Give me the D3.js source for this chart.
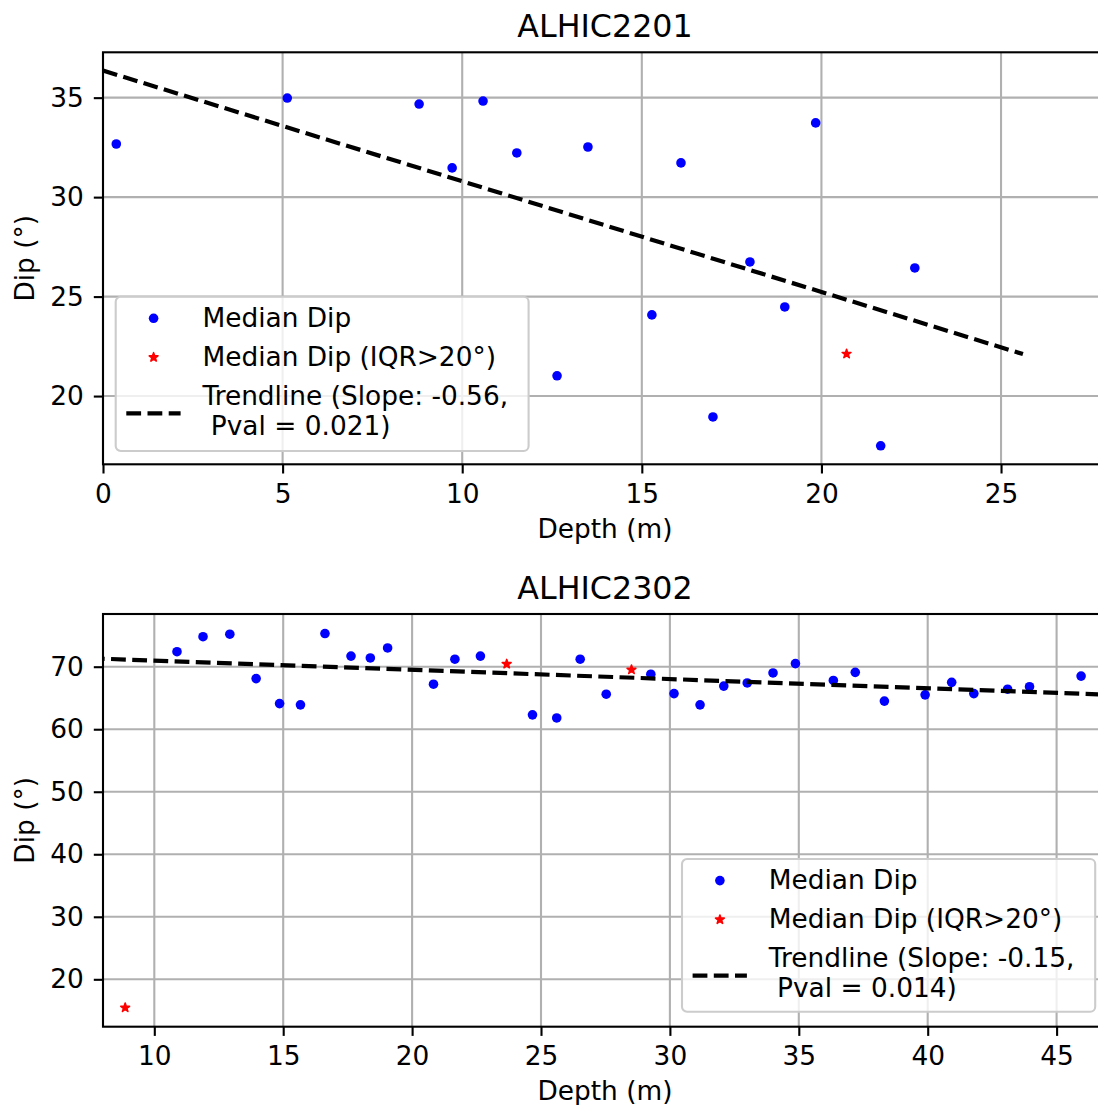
<!DOCTYPE html>
<html>
<head>
<meta charset="utf-8">
<script src="https://cdn.jsdelivr.net/npm/d3@7"></script>
<style>
    body { margin: 0; background: #fff; }
    svg { display: block; font-family: "DejaVu Sans", sans-serif; }
</style>
</head>
<body>
<div id="chart"></div>
<script>
// ALHIC2201 - median dip per depth
const depth2201 = [0.37, 5.13, 8.80, 9.72, 10.58, 11.52, 12.64, 13.50, 15.28, 16.09, 16.98, 18.01, 18.98, 19.84, 21.65, 22.60];
const dip2201   = [32.67, 34.98, 34.68, 31.47, 34.83, 32.22, 21.02, 32.52, 24.08, 31.72, 18.95, 26.74, 24.48, 33.73, 17.50, 26.44];
// points where IQR > 20 deg
const wideDepth2201 = [20.70];
const wideDip2201   = [22.12];
// trendline end points
const trendDepth2201 = [0, 25.61];
const trendDip2201   = [36.36, 22.11];

// ALHIC2302
const depth2302 = [10.88, 11.89, 12.93, 13.95, 14.86, 15.67, 16.62, 17.63, 18.38, 19.05, 20.83, 21.66, 22.65, 24.67,
    25.61, 26.52, 27.53, 29.26, 30.16, 31.17, 32.09, 33.00, 34.00, 34.87, 36.34, 37.19, 38.32, 39.90, 40.93, 41.79, 43.10, 43.95, 45.95];
const dip2302   = [72.4, 74.8, 75.2, 68.1, 64.1, 63.9, 75.3, 71.7, 71.4, 73.0, 67.2, 71.2, 71.7, 62.3,
    61.8, 71.2, 65.6, 68.8, 65.7, 63.9, 66.9, 67.4, 69.0, 70.5, 67.8, 69.1, 64.5, 65.5, 67.5, 65.7, 66.4, 66.8, 68.5];
const wideDepth2302 = [8.87, 23.67, 28.51];
const wideDip2302   = [15.46, 70.43, 69.52];
const trendDepth2302 = [7.5, 47.5];
const trendDip2302   = [71.35, 65.44];

const coreNames = ["ALHIC2201", "ALHIC2302"];
const xTicks2201 = [0, 5, 10, 15, 20, 25];
const yTicks2201 = [20, 25, 30, 35];
const xTicks2302 = [10, 15, 20, 25, 30, 35, 40, 45];
const yTicks2302 = [20, 30, 40, 50, 60, 70];
const legendLabels = ["Median Dip", "Median Dip (IQR>20°)"];
const trendLabels = [
    ["Trendline (Slope: -0.56,", " Pval = 0.021)"],
    ["Trendline (Slope: -0.15,", " Pval = 0.014)"]
];

const fontSize = 26.4;
const lineW = 2.1;
const gridColor = "#b0b0b0";
const dash = "14.8 6.4";
const left = 103, right = 1107;

const svg = d3.select("#chart").append("svg")
    .attr("width", 1098)
    .attr("height", 1105);

const panels = [
    {
        title: coreNames[0], depth: depth2201, dip: dip2201,
        wideDepth: wideDepth2201, wideDip: wideDip2201,
        trendDepth: trendDepth2201, trendDip: trendDip2201, trendText: trendLabels[0],
        xTicks: xTicks2201, yTicks: yTicks2201,
        xDomain: [0, 27.95], yDomain: [16.57, 37.28],
        top: 52.3, bottom: 464.3, titleY: 37,
        legend: { x: 115.7, y: 296.7, w: 412.9, h: 154.3 }
    },
    {
        title: coreNames[1], depth: depth2302, dip: dip2302,
        wideDepth: wideDepth2302, wideDip: wideDip2302,
        trendDepth: trendDepth2302, trendDip: trendDip2302, trendText: trendLabels[1],
        xTicks: xTicks2302, yTicks: yTicks2302,
        xDomain: [8.01, 46.955], yDomain: [12.42, 78.43],
        top: 614, bottom: 1026.7, titleY: 599.3,
        legend: { x: 682, y: 859, w: 413.2, h: 152.7 }
    }
];

const star = d3.symbol().type(d3.symbolStar).size(24);

function drawStar(sel) {
    sel.attr("d", star)
        .attr("fill", "#ff0000")
        .attr("stroke", "#ff0000")
        .attr("stroke-width", 1.6)
        .attr("stroke-linejoin", "round");
}

function drawPanel(cfg, i) {
    const xScale = d3.scaleLinear().domain(cfg.xDomain).range([left, right]);
    const yScale = d3.scaleLinear().domain(cfg.yDomain).range([cfg.bottom, cfg.top]);
    const g = svg.append("g").attr("class", "panel" + i);

    const clipId = "clip" + i;
    g.append("clipPath").attr("id", clipId)
        .append("rect")
        .attr("x", left).attr("y", cfg.top)
        .attr("width", right - left).attr("height", cfg.bottom - cfg.top);

    // grid
    const gridG = g.append("g").attr("class", "grid");
    gridG.selectAll(".vgrid").data(cfg.xTicks).join("line")
        .attr("x1", d => xScale(d)).attr("x2", d => xScale(d))
        .attr("y1", cfg.top).attr("y2", cfg.bottom)
        .attr("stroke", gridColor).attr("stroke-width", lineW);
    gridG.selectAll(".hgrid").data(cfg.yTicks).join("line")
        .attr("x1", left).attr("x2", right)
        .attr("y1", d => yScale(d)).attr("y2", d => yScale(d))
        .attr("stroke", gridColor).attr("stroke-width", lineW);

    const plotG = g.append("g").attr("clip-path", "url(#" + clipId + ")");

    // blue median dips
    plotG.selectAll(".dot")
        .data(cfg.depth.map((d, k) => ({ depth: d, dip: cfg.dip[k] })))
        .join("circle")
        .attr("class", "dot")
        .attr("cx", d => xScale(d.depth))
        .attr("cy", d => yScale(d.dip))
        .attr("r", 4.8)
        .attr("fill", "#0000ff");

    // red stars (IQR > 20)
    plotG.selectAll(".star")
        .data(cfg.wideDepth.map((d, k) => ({ depth: d, dip: cfg.wideDip[k] })))
        .join("path")
        .attr("class", "star")
        .call(drawStar)
        .attr("transform", d => "translate(" + xScale(d.depth) + "," + yScale(d.dip) + ")");

    // trendline
    const trendPts = cfg.trendDepth.map((d, k) => [xScale(d), yScale(cfg.trendDip[k])]);
    plotG.append("path")
        .attr("d", d3.line()(trendPts))
        .attr("fill", "none")
        .attr("stroke", "#000")
        .attr("stroke-width", 4.2)
        .attr("stroke-dasharray", dash);

    // axes
    const xAxis = g.append("g")
        .attr("transform", "translate(0," + cfg.bottom + ")")
        .call(d3.axisBottom(xScale).tickValues(cfg.xTicks).tickSize(9.2).tickPadding(10.5).tickSizeOuter(0));
    const yAxis = g.append("g")
        .attr("transform", "translate(" + left + ",0)")
        .call(d3.axisLeft(yScale).tickValues(cfg.yTicks).tickSize(9.2).tickPadding(10).tickSizeOuter(0));

    [xAxis, yAxis].forEach(ax => {
        ax.attr("font-family", null).attr("font-size", null);
        ax.select(".domain").remove();
        ax.selectAll(".tick line").attr("stroke", "#000").attr("stroke-width", lineW);
        ax.selectAll(".tick text").attr("fill", "#000").style("font-size", fontSize + "px");
    });

    // spines (right one falls just outside the picture)
    g.append("rect")
        .attr("x", left).attr("y", cfg.top)
        .attr("width", right - left).attr("height", cfg.bottom - cfg.top)
        .attr("fill", "none")
        .attr("stroke", "#000")
        .attr("stroke-width", lineW);

    // labels
    g.append("text")
        .attr("x", (left + right) / 2).attr("y", cfg.titleY)
        .attr("text-anchor", "middle")
        .style("font-size", "31.7px")
        .text(cfg.title);
    g.append("text")
        .attr("x", (left + right) / 2).attr("y", cfg.bottom + 73.5)
        .attr("text-anchor", "middle")
        .style("font-size", fontSize + "px")
        .text("Depth (m)");
    g.append("text")
        .attr("transform", "translate(34," + (cfg.top + cfg.bottom) / 2 + ") rotate(-90)")
        .attr("text-anchor", "middle")
        .style("font-size", fontSize + "px")
        .text("Dip (°)");

    // legend
    const lg = g.append("g").attr("transform", "translate(" + cfg.legend.x + "," + cfg.legend.y + ")");
    lg.append("rect")
        .attr("width", cfg.legend.w).attr("height", cfg.legend.h)
        .attr("rx", 5).attr("ry", 5)
        .attr("fill", "#fff").attr("fill-opacity", 0.8)
        .attr("stroke", "#cccccc").attr("stroke-width", lineW);
    lg.append("circle")
        .attr("cx", 37.9).attr("cy", 21.6).attr("r", 4.8)
        .attr("fill", "#0000ff");
    lg.append("path")
        .call(drawStar)
        .attr("transform", "translate(37.9,60.6)");
    lg.append("line")
        .attr("x1", 10.6).attr("x2", 64.9)
        .attr("y1", 116.6).attr("y2", 116.6)
        .attr("stroke", "#000").attr("stroke-width", 4.2)
        .attr("stroke-dasharray", dash);

    const rows = [legendLabels[0], legendLabels[1], cfg.trendText[0], cfg.trendText[1]];
    const baselines = [30, 69.3, 108.3, 138.3];
    lg.selectAll(".legendText").data(rows).join("text")
        .attr("class", "legendText")
        .attr("x", 86.7)
        .attr("y", (d, k) => baselines[k])
        .attr("xml:space", "preserve")
        .style("white-space", "pre")
        .style("font-size", fontSize + "px")
        .text(d => d);
}

panels.forEach(drawPanel);
</script>
</body>
</html>
